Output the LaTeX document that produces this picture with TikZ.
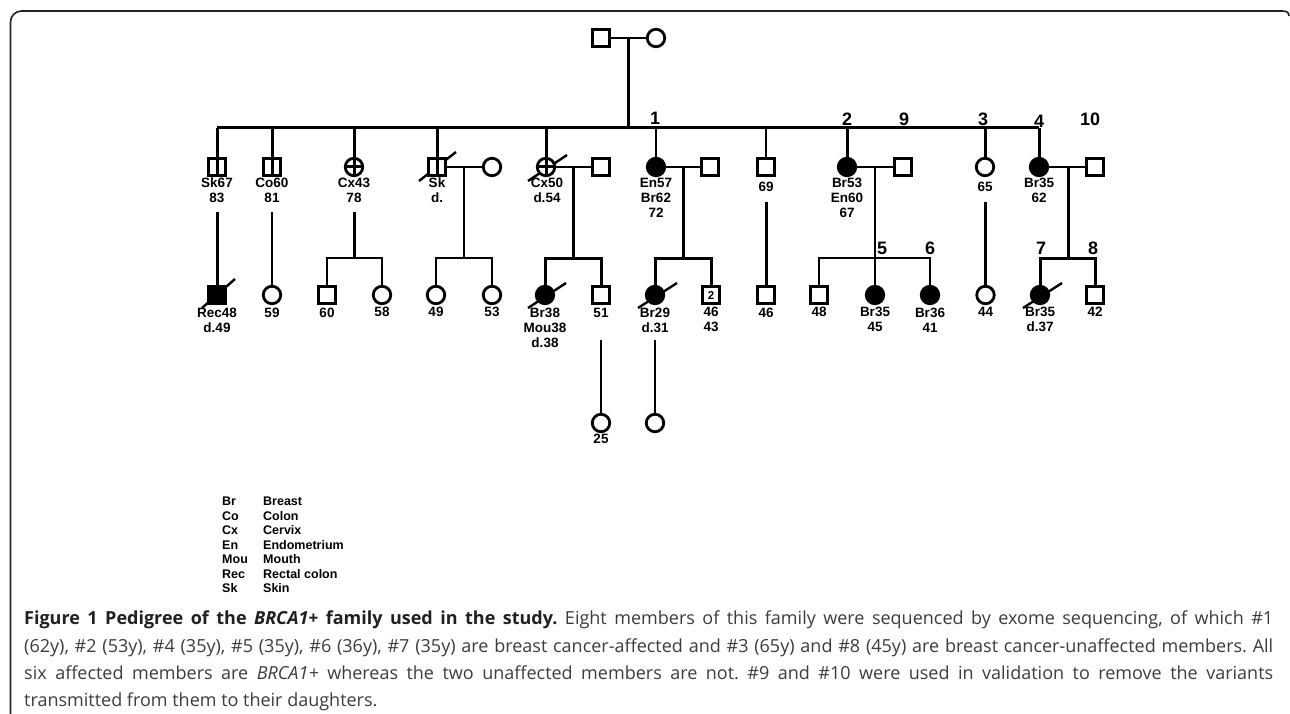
\documentclass[tikz,border=0pt]{standalone}
\usepackage{fontspec}
\setmainfont{Liberation Sans}
\newfontfamily\capfont{Open Sans}
\definecolor{framec}{HTML}{222222}
\definecolor{capbold}{HTML}{231F20}
\definecolor{captext}{HTML}{3C3C3C}
\begin{document}
\begin{tikzpicture}[x=1pt,y=-1pt,
  ln/.style={line width=3pt},
  lnthin/.style={line width=2.4pt},
  male/.style={rectangle, draw, line width=2.8pt, minimum size=17.5pt, inner sep=0pt, fill=white},
  female/.style={circle, draw, line width=2.8pt, minimum size=17.5pt, inner sep=0pt, fill=white},
  aff/.style={fill=black},
  lbl/.style={font=\fontsize{13.5}{15}\selectfont\bfseries, align=center, inner sep=0pt, anchor=north},
  num/.style={font=\fontsize{18}{18}\selectfont\bfseries, inner sep=0pt},
  slash/.style={line width=2.4pt},
  leg/.style={font=\fontsize{12.5}{14}\selectfont\bfseries, inner sep=0pt, anchor=base west},
]
\useasboundingbox (0,0) rectangle (1290,714);
% frame
\draw[framec, line width=1.6pt, rounded corners=11pt] (10.5,720) -- (10.5,11) -- (1283,11);
\draw[framec, line width=1.6pt] (1282,11) .. controls (1286,11) and (1289,12) .. (1289,16);

% ---------- generation I
\node[male] (f1) at (601,38) {};
\node[female] (f2) at (656,38) {};
\draw[lnthin] (f1) -- (f2);
\coordinate (m0) at (628,38);
\coordinate (sibL) at (217,128);
\coordinate (sibR) at (1039,128);
\draw[ln] (m0) -- (628,128);
\draw[ln] (sibL) -- (sibR);

% ---------- generation II
\draw[slash] (419,181) -- (456,152);
\draw[slash] (528,181) -- (567,155);
\node[male] (sk67) at (217,167) {};
\node[male] (co60) at (272,167) {};
\node[female] (cx43) at (354,167) {};
\node[male] (sk) at (437,167) {};
\node[female] (skw) at (492,167) {};
\node[female] (cx50) at (546,167) {};
\node[male] (cx50h) at (601,167) {};
\node[female,aff] (en57) at (656,167) {};
\node[male] (en57h) at (710,167) {};
\node[male] (n69) at (766,167) {};
\node[female,aff] (br53) at (847,167) {};
\node[male] (br53h) at (903,167) {};
\node[female] (n65) at (985,167) {};
\node[female,aff] (br35) at (1039,167) {};
\node[male] (br35h) at (1095,167) {};

% drops from sibship
\draw[ln] (sk67 |- sibL) -- (sk67.south);
\draw[ln] (co60 |- sibL) -- (co60.south);
\draw[ln] (cx43 |- sibL) -- (cx43.south);
\draw[ln] (cx43.west) -- (cx43.east);
\draw[ln] (sk |- sibL) -- (sk.south);
\draw[ln] (cx50 |- sibL) -- (cx50.south);
\draw[ln] (cx50.west) -- (cx50.east);
\draw[lnthin] (en57 |- sibL) -- (en57.north);
\draw[lnthin] (n69 |- sibL) -- (n69.north);
\draw[ln] (br53 |- sibL) -- (br53.north);
\draw[ln] (n65 |- sibL) -- (n65.north);
\draw[ln] (br35 |- sibL) -- (br35.north);

% marriages
\draw[lnthin] (sk) -- (skw);
\draw[lnthin] (cx50) -- (cx50h);
\draw[lnthin] (en57) -- (en57h);
\draw[lnthin] (br53) -- (br53h);
\draw[lnthin] (br35) -- (br35h);

% numbers
\node[num] (k1) at (655,118) {1};
\node[num] (k2) at (847,119) {2};
\node[num] (k9) at (904,119) {9};
\node[num] (k3) at (983,119) {3};
\node[num] (k4) at (1039,121) {4};
\node[num] (k10) at (1090,119) {10};

% labels gen II
\node[lbl] (lsk67) at (217,178) {Sk67\\83};
\node[lbl] (lco60) at (272,178) {Co60\\81};
\node[lbl] (lcx43) at (354,178) {Cx43\\78};
\node[lbl] (lsk) at (437,178) {Sk\\d.};
\node[lbl] (lcx50) at (547,178) {Cx50\\d.54};
\node[lbl] (len57) at (656,178) {En57\\Br62\\72};
\node[lbl] (l69) at (766,182) {69};
\node[lbl] (lbr53) at (847,178) {Br53\\En60\\67};
\node[lbl] (l65) at (985,182) {65};
\node[lbl] (lbr35) at (1039,178) {Br35\\62};

% ---------- generation III
\draw[slash] (202,308) -- (235,279);
\draw[slash] (528,308) -- (566,283);
\draw[slash] (638,308) -- (677,283);
\draw[slash] (1023,308) -- (1062,283);
\node[male,aff] (rec48) at (217,295) {};
\node[female] (n59) at (272,295) {};
\node[male] (n60) at (327,295) {};
\node[female] (n58) at (382,295) {};
\node[female] (n49) at (436,295) {};
\node[female] (n53) at (492,295) {};
\node[female,aff] (br38) at (545,295) {};
\node[male] (n51) at (601,295) {};
\node[female,aff] (br29) at (655,295) {};
\node[male, font=\fontsize{11.5}{12}\selectfont\bfseries] (n2) at (711,295) {2};
\node[male] (n46) at (766,295) {};
\node[male] (n48) at (819,295) {};
\node[female,aff] (br35b) at (875,295) {};
\node[female,aff] (br36) at (930,295) {};
\node[female] (n44) at (985.5,295) {};
\node[female,aff] (br35c) at (1040,295) {};
\node[male] (n42) at (1095,295) {};

% single lines of descent
\coordinate (dsk67) at (217,212);
\coordinate (dco60) at (272,212);
\coordinate (d69) at (766,202);
\coordinate (d65) at (985.5,202);
\draw[ln] (dsk67) -- (rec48.north);
\draw[lnthin] (dco60) -- (n59.north);
\draw[ln] (d69) -- (n46.north);
\draw[ln] (d65) -- (n44.north);

% sibships gen III
\coordinate (dcx43) at (354,212);
\coordinate (msk) at (464,167);
\coordinate (mcx50) at (573,167);
\coordinate (men57) at (683,167);
\coordinate (mbr53) at (875,167);
\coordinate (mbr35) at (1068,167);
\draw[ln] (dcx43) -- (354,258);
\draw[lnthin] (n60.north) |- (382,258) -- (n58.north);
\draw[lnthin] (msk) -- (464,258);
\draw[lnthin] (n49.north) |- (492,258) -- (n53.north);
\draw[ln] (mcx50) -- (573,258);
\draw[ln] (br38.north) |- (601,258) -- (n51.north);
\draw[ln] (men57) -- (683,258);
\draw[ln] (br29.north) |- (711,258) -- (n2.north);
\draw[lnthin] (mbr53) -- (br35b.north);
\draw[lnthin] (n48.north) |- (930,258) -- (br36.north);
\draw[ln] (mbr35) -- (1068,258);
\draw[ln] (br35c.north) |- (1095,258) -- (n42.north);

\node[num] (k5) at (882,248) {5};
\node[num] (k6) at (930,248) {6};
\node[num] (k7) at (1041,248) {7};
\node[num] (k8) at (1093,248) {8};

% labels gen III
\node[lbl] (lrec48) at (217,308) {Rec48\\d.49};
\node[lbl] (l59) at (272,308) {59};
\node[lbl] (l60) at (327,308) {60};
\node[lbl] (l58) at (382,307) {58};
\node[lbl] (l49) at (436,307) {49};
\node[lbl] (l53) at (492,307) {53};
\node[lbl] (lbr38) at (545,308) {Br38\\Mou38\\d.38};
\node[lbl] (l51) at (601,308) {51};
\node[lbl] (lbr29) at (655,308) {Br29\\d.31};
\node[lbl] (l2) at (711,307) {46\\43};
\node[lbl] (l46) at (766,308) {46};
\node[lbl] (l48) at (819,307) {48};
\node[lbl] (lbr35b) at (875,307) {Br35\\45};
\node[lbl] (lbr36) at (930,308) {Br36\\41};
\node[lbl] (l44) at (985.5,307) {44};
\node[lbl] (lbr35c) at (1040,307) {Br35\\d.37};
\node[lbl] (l42) at (1095,307) {42};

% ---------- generation IV
\node[female] (g1) at (601,423) {};
\node[female] (g2) at (655,423) {};
\coordinate (d51) at (601,340);
\coordinate (dbr29) at (655,340);
\draw[lnthin] (d51) -- (g1.north);
\draw[lnthin] (dbr29) -- (g2.north);
\node[lbl] (l25) at (601,434) {25};

% ---------- legend
\foreach \a/\b [count=\i] in {Br/Breast, Co/Colon, Cx/Cervix, En/Endometrium, Mou/Mouth, Rec/Rectal colon, Sk/Skin}{
  \node[leg] (la\i) at (222,491.5+14.45*\i) {\a};
  \node[leg] (lb\i) at (263,491.5+14.45*\i) {\b};
}

% ---------- caption
\node[anchor=north west, inner sep=0pt, text width=1249pt, align=justify,
      font=\capfont\fontsize{18}{27.3}\selectfont\frenchspacing, text=captext] (cap) at (24,610.8)
{\textcolor{capbold}{\bfseries Figure 1 Pedigree of the \textit{BRCA1+} family used in the study.} Eight members of this family were sequenced by exome sequencing, of which \#1\linebreak
(62y), \#2 (53y), \#4 (35y), \#5 (35y), \#6 (36y), \#7 (35y) are breast cancer-affected and \#3 (65y) and \#8 (45y) are breast cancer-unaffected members. All\linebreak
six affected members are \textit{BRCA1+} whereas the two unaffected members are not. \#9 and \#10 were used in validation to remove the variants\linebreak
transmitted from them to their daughters.};
\end{tikzpicture}
\end{document}
